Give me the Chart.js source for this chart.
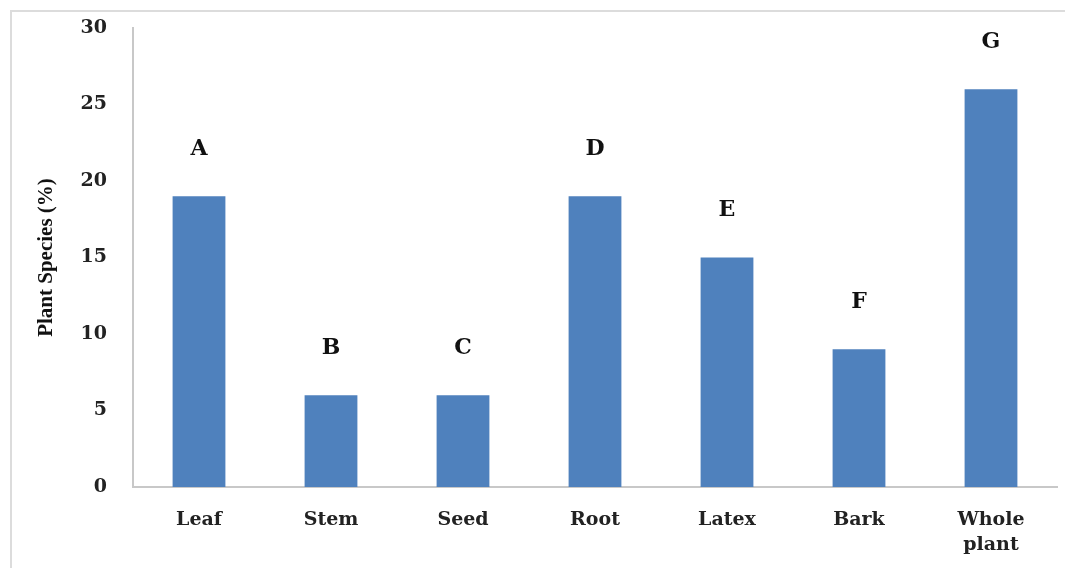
<!DOCTYPE html>
<html>
<head>
<meta charset="utf-8">
<script src="https://cdn.jsdelivr.net/npm/chart.js@4/dist/chart.umd.min.js"></script>
<style>
	body { margin: 0; background: #fff; overflow: hidden; }
	#marco { position: absolute; left: 10px; top: 10px; width: 1100px; height: 600px; border: 2px solid #dcdcdc; }
	#caja { position: absolute; left: 0; top: 0; width: 1065px; height: 568px; }
</style>
</head>
<body>
<div id="marco"></div>
<div id="caja"><canvas id="grafico" width="1065" height="568"></canvas></div>
<script>
//* Datos del gráfico
let categorias = [["Leaf"], ["Stem"], ["Seed"], ["Root"], ["Latex"], ["Bark"], ["Whole", "plant"]];
let porcentajes = [19, 6, 6, 19, 15, 9, 26];
let letras = ["A", "B", "C", "D", "E", "F", "G"];
let ticksY = [0, 5, 10, 15, 20, 25, 30];

//* Plugin para pintar las letras sobre las barras
const letrasPlugin = {
	id: "letras",
	afterDatasetsDraw(chart) {
		const ctx = chart.ctx;
		const meta = chart.getDatasetMeta(0);
		ctx.save();
		ctx.font = "bold 22px 'DejaVu Serif'";
		ctx.fillStyle = "#111";
		ctx.textAlign = "center";
		ctx.textBaseline = "middle";
		meta.data.forEach((bar, i) => {
			ctx.fillText(letras[i], bar.x, bar.y - 47);
		});
		ctx.restore();
	},
};

const ctx = document.getElementById("grafico").getContext("2d");
const grafico = new Chart(ctx, {
	type: "bar",
	data: {
		labels: categorias,
		datasets: [
			{
				data: porcentajes,
				backgroundColor: "#4F81BD",
				borderWidth: 0,
				categoryPercentage: 1,
				barPercentage: 0.4,
			},
		],
	},
	options: {
		responsive: false,
		animation: false,
		layout: { padding: { top: 28, right: 8, bottom: 0, left: 0 } },
		plugins: {
			legend: { display: false },
			tooltip: { enabled: false },
		},
		scales: {
			y: {
				min: 0,
				max: 30,
				//* Ancho fijo del eje y sin relleno extra arriba
				afterFit: (s) => { s.width = 133; s.paddingTop = 10; s.paddingBottom = 10; },
				afterBuildTicks: (s) => { s.ticks = ticksY.map((v) => ({ value: v })); },
				grid: { display: false, drawTicks: false },
				border: { display: true, color: "#c8c8c8", width: 2 },
				ticks: {
					padding: 26,
					color: "#222",
					font: { size: 19, weight: "bold", family: "DejaVu Serif" },
				},
				title: {
					display: true,
					text: "Plant Species (%)",
					color: "#111",
					padding: { top: 34, bottom: 0 },
					font: { size: 21, weight: "bold", family: "Liberation Serif" },
				},
			},
			x: {
				afterFit: (s) => { s.height = 81; },
				grid: { display: false, drawTicks: false },
				border: { display: true, color: "#c8c8c8", width: 2 },
				ticks: {
					autoSkip: false,
					maxRotation: 0,
					padding: 21,
					color: "#222",
					font: { size: 19, weight: "bold", family: "DejaVu Serif", lineHeight: 1.3 },
				},
			},
		},
	},
	plugins: [letrasPlugin],
});
</script>
</body>
</html>
